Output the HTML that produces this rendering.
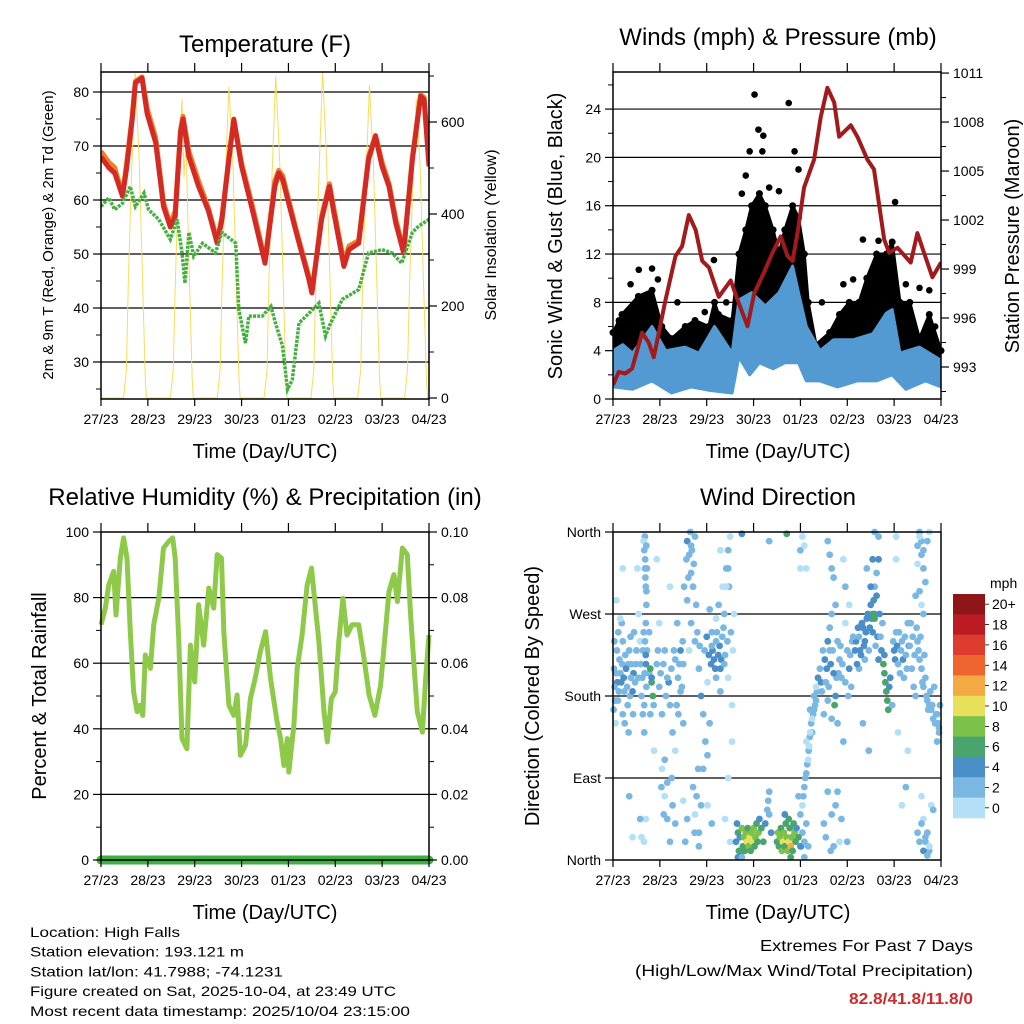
<!DOCTYPE html>
<html><head><meta charset="utf-8"><style>
html,body{margin:0;padding:0;background:#fff;}
svg{display:block;font-family:"Liberation Sans",sans-serif;}
</style></head><body>
<svg id="chart" width="1024" height="1024" viewBox="0 0 1024 1024" xmlns="http://www.w3.org/2000/svg"></svg>
<script>
// ---------- DATA ----------
const dayLabels=["27/23","28/23","29/23","30/23","01/23","02/23","03/23","04/23"];
const tempHours=[0,4,7,11,13,16,17.6,21,23.6,28,32,35.5,38,40.7,42,45,50,55,59.5,62,65.5,68,72,77.5,84,89,91,93,99.6,106.5,108,113,117,119,124.4,127,132,137,140.6,144,147.5,151,155,159.5,163.7,165.5,168];
const tempRed=[68,66,65,60.7,65.6,74.9,81.7,82.6,76,70.6,58.8,55,57,72.4,75,68,62.5,58,52,56.4,67.5,74.9,66.2,58.2,48.3,62.5,65,63.8,54.5,45.3,42.8,56.4,62.5,58.2,47.7,50.8,52,67.5,71.8,66.2,62.5,55.7,50.2,67.5,79.2,78.6,66.2];
const tempOrange=[69,67,66,61,66.5,75.5,82,82.8,77,71.5,59.5,55.5,58,73,75.5,69,63.5,58.5,52.5,57,68,75,66.8,59,48.8,63.5,65.5,64.5,55,45.8,43,57,63,59,48.5,51.5,52.5,68,72,67,63,56.5,50.5,68,79.5,79,67];
const dewHours=[0,4,7,11,15,17.6,22,24.4,29.6,35.5,39,41.5,43,45,47.5,52,58.6,62,69,70.6,74,75.7,82.6,87,89.4,93,95.5,98,101.4,106.5,111.6,115,117,123.6,132,137,144,149,154,159.5,162.8,168];
const dewVals=[58.8,60.4,58.2,59.4,62.5,58.8,61.3,58.2,56.4,52.7,56.4,50.2,44.6,54,49.6,52,50.2,54,52,39.7,33.5,38.5,38.5,40.3,37.2,32.9,24.9,26.7,37.2,39,40.9,34.8,36.7,41.6,43.4,50.2,50.8,50.2,48.3,54,55.2,56.4];
const solarHours=[0,11.5,13,14,15.5,17.5,19.5,21,22.7,23.3,35.5,37,38,39.5,41.5,42.5,43.5,45,46.7,47.3,59.5,61,62,63.5,65.5,67.5,69,70.7,71.3,83.5,85,86,87.5,89.5,91.5,93,94.7,95.3,107.5,109,110,111.5,113.5,115.5,117,118.7,119.3,131.5,133,134,135.5,137.5,139.5,141,142.7,143.3,155.5,157,158,159.5,161.5,163.5,165,166.7,167.3,168];
const solarVals=[0,0,60,250,470,706,520,300,40,0,0,60,240,450,650,480,560,300,40,0,0,60,240,460,676,520,290,40,0,0,60,250,470,700,520,300,40,0,0,60,250,470,710,520,300,40,0,0,60,250,460,680,510,290,40,0,0,60,240,440,650,500,280,40,0,0];
const presHours=[0,2.9,6.3,9.8,14.9,18.3,20.9,26.9,32,35.4,38.8,42.3,45.7,49.1,54.2,60.3,63.8,68.9,72.3,77.4,81.7,85.9,89.4,92,94.5,97.9,103,106.4,109.8,113.3,115.8,121.8,125.2,130.3,133.7,138.9,141.4,145.7,152.5,155.9,159.3,163.6,168];
const presVals=[991.9,992.7,992.6,992.9,995.1,994.5,993.6,997.1,999.8,1000.4,1002.3,1001.4,999.5,999.1,997.3,998.3,997.1,995.5,997.5,998.8,1000,1001,999.8,999.5,1001.2,1004,1005.7,1008.3,1010.1,1009.2,1007.1,1007.8,1007.1,1005.7,1005.1,1000.8,1000,1000.3,999.4,1001.2,1000,998.5,999.4];
const gustHours=[0,4.6,13,20,25,30,37,42,49,52,54,61,64.5,68,71,75,78,82,85,88,92,95,98,100,104,111,116,121,126,130,135,140,143,147,152,157,162,168];
const gustHi=[5.5,7,8.5,9,6,5,6,6.5,6,8,7,6.5,12,14,16,17,16,14,12,14,16,15,12,8,4.5,5.5,7,8,8,10,12,12,13,8,8,5,7,4];
const gustLoHours=[0,30,61,64,70,80,90,98,100,104,168];
const gustLo=[2.5,2.5,2.5,6,7,7,8,6,3,2,2];
const gustPeakHours=[72.5,74.5,76.5,80,85,90,93,95,51.7,13.2,20,23,128,144.5,136,157,162,33,47,107,118,123,68,70,66,77,3,9,58,101,150,165];
const gustPeakVals=[25.2,22.3,20.5,17.5,17.2,24.5,20.5,19,11.5,10.7,10.8,9.9,13.2,16.3,13.1,9.2,9,8,7.2,8,9.5,9.9,18.5,20.5,17,21.8,6.5,9.5,8,6,9.5,6];
const windHiHours=[0,5,10,20,27,37,44,52,61,64.5,71,78,85,92,95,99,106,113,123,133,140,143,147,157,168];
const windHi=[4,4.5,3.8,6,4,4.3,3.8,6,3.8,8.2,8.8,7.7,8.8,11,8.8,6,4,4.9,4.9,5.4,7.1,7.4,3.8,4.3,3.2];
const windLoHours=[0,10,20,30,40,50,61,64.5,70,75,82,88,95,99,106,115,125,135,143,150,160,168];
const windLo=[1,0.8,1.5,0.5,1,0.7,0.5,3.5,2,3,2.5,3,3,1.5,1.5,1,1.5,1.5,2,0.8,1.5,1];
const rhHours=[0,2.2,4,6.5,7.7,9.9,11.6,13.3,15,16.7,18.5,20,21.4,22.7,25.3,27,29.6,32,34.7,36.7,38,39.8,41.5,44,45.8,48,50,52.6,55.2,57.7,59.5,61.7,62.9,65.5,68,69.7,71.4,74,76.5,79,81.6,84.3,86.8,90.2,92,93.7,95.4,96.2,98.8,100.5,103,105.6,107.8,109,111.6,114.2,115.9,118,120,121.8,123.9,126,128.6,132,134.7,137.3,140.3,143.2,144.9,147.5,150,151.8,154.4,156.9,158.6,160.3,162,164.6,166.3,168];
const rhVals=[71.7,76.8,83.9,88,74.7,92,98.2,92,69.6,51.3,45.2,47.2,44.1,62.5,58.4,71.7,79.8,95.1,97.1,98.2,92,67.6,37,33.9,65.5,54.3,77.8,65.5,82.9,76.8,93.1,92,69.6,47.2,44.1,50.3,31.9,35,49.2,55.4,63.5,69.6,55.4,42.1,37,28.8,37,26.8,41.1,58.4,68.6,83.9,89,81.9,66.6,45.2,36,49.2,51.3,66.6,79.8,68.6,71.7,71.7,61.5,50.3,44.1,53.3,64.5,81.9,87,78.8,95.1,93.1,74.7,59.4,45.2,39,55.4,68.6];
const precipHours=[0,168];
const precipVals=[0,0];
// wind direction points: hour, degrees, speed (mph)
const dirHours=[0.8,1.7,2.5,3.3,4.2,5,5,5.8,6.7,7.5,8.3,9.2,10,10.8,11.7,1.3,3.7,8,10.3,2,5,1.7,8.3,12.5,10,13.9,14.6,13.1,13.9,
16,16.4,16.8,17.1,16.8,16.4,16.8,18.5,17.1,16,19.1,16,17.1,16.6,19.1,19.8,20.4,19.8,20.8,
22.4,23.7,25.1,26.5,27.8,29.2,30.5,31.9,26.5,27.8,29.2,30.5,25.1,31.9,23.7,29.2,22.4,27.8,21,32.6,33.3,34.6,35.3,36,
38,39,40,41,38,40,42,42,40,39,36,41,42,44,37,44,
44,45.1,46.2,47.3,48.4,46.2,49.5,50.6,51.7,52.8,53.9,55,52.8,56,50.6,52.8,48.4,55,48.4,50.6,
57,58,59,59,60,61,61,59,57,59,62,63,
63,64,64.5,65,65.5,66,66.5,67,67.5,68,68.5,69,69.5,70,70.5,71,71.5,72,72.5,73,73.5,74,74.5,75,76,77,78,79,79.5,80,80,81,64,66,63.5,
84,84.5,85,85.5,86,86.5,87,87.5,88,88.5,89,89.5,90,90.5,91,91.5,92,92.5,93,93.5,94,95,96,90,88,91,
97,98,99,100,100.5,101,102,103,104,104,99,98,100,96,97,99,96,
105,106,107,108,108.5,109,110,110,111,112,113,113.5,114,115,115,116,117,118,119,120,121,122,110,111,112,113,114,108,109,112,113,114,110,116,118,123,
124,125,126,127,128,129,130,131,132,133,134,134.5,135,136,137,130,132,136,138,128,131,133,134,
138.5,139,139.5,140,140.5,141,141.5,142,139,143,
144,145,146,147,148,149,150,151,152,153,154,155,156,157,158,159,160,161,162,163,164,165,166,167,151,148,150,146,
156,157,158,159,160,157,159,161,162,158,
156,157,158,159,160,161,162,163,164,89,66,80,98,145,145];
const dirDeg=[190,205,175,220,195,160,240,185,210,170,230,200,185,250,215,150,265,140,160,230,320,285,70,320,25,45,25,270,240,
340,320,300,280,260,240,225,205,190,170,160,140,345,310,210,195,180,200,170,
215,190,160,230,200,170,140,120,70,45,20,60,100,220,260,300,330,85,120,170,200,230,190,150,
350,335,315,300,285,260,240,355,345,230,215,80,50,30,20,15,
210,180,160,130,115,100,150,235,220,240,225,210,200,245,250,265,195,185,60,40,
270,300,320,340,355,170,130,90,215,200,270,20,
20,30,10,25,5,35,15,25,10,30,20,35,15,25,10,30,20,35,15,25,40,20,30,45,35,20,40,55,65,50,75,30,3,3,40,
20,30,15,25,35,10,20,30,15,40,25,10,20,35,15,25,10,40,30,20,35,25,15,45,50,3,
60,80,95,110,125,140,155,165,175,190,40,20,15,340,355,320,320,
200,210,185,160,220,195,175,240,230,155,205,170,180,150,240,220,200,130,260,230,210,190,350,335,320,310,280,40,25,50,15,60,75,20,330,245,
230,215,245,225,255,240,265,230,280,250,270,235,290,220,245,320,300,330,260,150,120,270,265,
215,205,195,185,175,165,190,200,225,170,
230,250,215,205,240,200,225,260,235,210,190,180,240,220,210,190,200,175,170,165,155,150,160,145,120,60,80,140,
345,355,335,320,305,295,270,350,360,280,
30,20,40,10,25,5,15,60,55,358,358,350,345,355,330];
const dirSpeed=[2,3,2,3,4,2,3,3,4,2,3,3,4,2,3,1,1,2,3,2,1,1,2,1,1,2,1,1,1,
3,3,2,3,2,3,4,3,2,2,3,2,2,3,6,6,6,4,3,
2,3,2,3,2,3,2,1,1,2,2,3,1,2,1,1,1,2,1,3,2,4,3,2,
4,3,3,2,2,3,2,3,3,1,3,2,1,2,3,2,
3,4,3,2,3,2,3,3,4,3,4,4,3,3,2,1,1,2,1,2,
2,1,2,3,1,1,1,1,3,1,1,1,
4,6,6,4,6,8,6,8,6,8,10,6,8,10,6,8,10,8,6,8,6,6,8,4,6,6,4,2,2,3,2,4,4,2,4,
6,8,6,8,6,8,10,8,6,6,8,8,10,6,12,8,6,6,8,6,4,6,4,6,4,6,
1,2,2,1,1,1,1,2,2,1,2,3,2,2,1,1,1,
4,3,3,2,4,3,2,4,3,2,4,6,4,2,3,3,2,2,1,3,4,2,3,3,2,2,3,3,2,3,3,2,3,1,1,2,
4,4,3,4,4,4,4,3,4,4,4,3,4,4,3,2,4,4,3,2,2,6,6,
6,6,6,6,6,6,4,4,4,3,
4,2,3,2,3,2,3,2,3,3,2,2,3,2,3,2,3,3,2,3,2,3,2,3,1,1,2,1,
2,1,3,2,2,2,3,2,1,1,
2,2,3,4,2,2,1,1,2,6,4,2,1,1,1];
const dirHoursExtra=[0.5,1,2.2,3,3.8,4.7,5.5,6.3,7.2,7.8,8.7,9.5,10.5,11.3,12,13,0.7,2.7,4.5,9,0.3,6,
14.2,15,15.3,15.7,14.6,15.3,16.2,16.9,17.4,16.5,17.1,18.5,16.3,17.4,15.7,15.9,16.8,
23,24.4,25.8,27.1,28.5,29.9,31.2,34,34.6,35.7,32.9,33.5,26.5,24.8,26,30.1,31.9,
36.4,37.6,38.6,39.6,40.4,41.4,42.6,43.2,44.4,43.6,42.8,45.1,41.8,38,36,
46.9,48,49.1,50.2,51,52.4,53.2,54.6,55.4,56.6,57.4,58.6,49.5,54.1,56.2,58,59.4,60.4,61.4,60,57.4,55,
97.5,98.5,99.5,100.2,100.8,101.5,102.5,103.5,104.5,101,102,103,99,97,96.5,98,95,96,
106.5,107.5,109.5,110.5,111.5,112.5,114.5,115.5,116.5,117.5,119,120.5,121.5,122.5,111,112,119,121,120,117,115,111.5,
124.5,125.5,126.5,127.5,128.5,129.5,130.5,131.5,132.5,133.5,135.5,136.5,137.5,129,126,134,135,133,136,134,
143.5,144.5,145.5,146.5,147.5,148.5,149.5,150.5,151.5,152.5,153.5,154.5,155.5,156.5,157.5,158.5,159.5,160.5,161.5,162.5,163.5,164.5,165.5,166.5,167.5,167,166,157,158,159,156,155,160,161,162,159,158];
const dirDegExtra=[210,175,195,185,205,215,200,225,190,215,180,215,205,195,230,200,240,250,260,245,165,150,
215,200,230,250,180,160,205,215,230,330,295,250,355,320,350,20,45,
230,205,215,180,195,210,230,215,185,240,260,160,110,80,50,90,40,
300,330,310,360,340,325,280,250,235,100,70,60,30,45,65,
230,245,225,215,230,210,250,235,220,255,225,240,275,280,300,320,300,250,230,20,45,340,
70,90,105,120,135,150,160,170,185,165,140,180,130,30,15,3,70,50,
195,230,210,190,215,230,200,205,235,215,195,180,225,240,255,270,300,280,20,45,75,10,
240,255,230,260,235,250,270,255,265,285,245,270,230,220,210,300,315,330,355,360,
240,220,235,250,230,220,245,210,235,260,245,225,255,230,245,195,225,180,165,185,170,190,160,150,170,140,130,360,350,340,325,290,20,30,10,45,70];
const dirSpeedExtra=[3,2,4,3,2,3,4,3,3,2,3,3,4,3,3,2,2,2,3,3,3,2,
3,2,3,3,2,2,3,4,3,3,3,3,2,3,1,1,1,
3,3,2,3,4,3,2,3,3,2,3,2,2,2,2,2,2,
3,3,2,3,3,3,3,2,3,2,2,2,3,2,1,
3,4,4,4,4,4,3,4,4,3,3,3,2,2,1,2,2,3,1,1,1,1,
2,2,2,2,2,2,2,2,3,3,2,3,1,2,3,2,2,2,
4,3,4,3,4,3,3,2,3,3,3,2,3,2,2,2,2,1,2,2,2,2,
4,4,4,4,4,4,4,4,5,4,4,4,4,3,3,3,2,4,3,3,
3,4,4,3,3,4,3,3,4,3,3,3,2,3,3,3,2,3,3,2,3,2,3,3,3,3,3,2,3,2,1,2,3,3,2,1,1];
const cbLabels=["20+","18","16","14","12","10","8","6","4","2","0"];
const cbColors=["#8e1518","#bb1c24","#dd3c2e","#ef6530","#f5a944","#e6e05a","#7cc24a","#4aa56c","#4a8fc7","#7ab8e3","#b3e0f7"];

// ---------- DRAWING ----------
const svg=document.getElementById('chart');
const NS="http://www.w3.org/2000/svg";
function mk(tag,attrs,parent){const e=document.createElementNS(NS,tag);for(const k in attrs)e.setAttribute(k,attrs[k]);(parent||svg).appendChild(e);return e;}
function txt(s,x,y,size,anchor,parent,extra){const t=mk('text',Object.assign({x:x,y:y,'font-size':size,'text-anchor':anchor||'middle',fill:'#000'},extra||{}),parent);t.textContent=s;return t;}

function panel(name,x0,x1,y0,y1){
  const g=mk('g',{});
  
  
  const xs=h=>x0+h/168*(x1-x0);
  return {g,xs,x0,x1,y0,y1};
}
function frame(p,name){
  const r=mk('rect',{x:p.x0,y:p.y0,width:p.x1-p.x0,height:p.y1-p.y0,fill:'none',stroke:'#000','stroke-width':1.5},p.g);
  
  
}
function xAxis(p,name){
  const g=mk('g',{},p.g);
  
  
  dayLabels.forEach((lab,i)=>{
    const x=p.xs(i*24);
    mk('line',{x1:x,x2:x,y1:p.y1,y2:p.y1+7,stroke:'#000','stroke-width':1.2},g);
    mk('line',{x1:x,x2:x,y1:p.y0,y2:p.y0-9,stroke:'#000','stroke-width':1.2},g);
    const t=txt(lab,x,p.y1+25,14,'middle',g);
    
    
  });
}
function grid(p,ys){ys.forEach(y=>mk('line',{x1:p.x0,x2:p.x1,y1:y,y2:y,stroke:'#000','stroke-width':1.2},p.g));}
function leftTicks(p,vals,labels,yf,minor,name){
  const g=mk('g',{},p.g);
  
  
  vals.forEach((v,i)=>{const y=yf(v);mk('line',{x1:p.x0-8,x2:p.x0,y1:y,y2:y,stroke:'#000','stroke-width':1.2},g);
    txt(labels[i],p.x0-12,y+5,14,'end',g);});
  minor.forEach(v=>{const y=yf(v);mk('line',{x1:p.x0-5,x2:p.x0,y1:y,y2:y,stroke:'#000','stroke-width':1},g);});
}
function rightTicks(p,vals,labels,yf,minor,name){
  const g=mk('g',{},p.g);
  
  
  vals.forEach((v,i)=>{const y=yf(v);mk('line',{x1:p.x1,x2:p.x1+8,y1:y,y2:y,stroke:'#000','stroke-width':1.2},g);
    txt(labels[i],p.x1+12,y+5,14,'start',g);});
  minor.forEach(v=>{const y=yf(v);mk('line',{x1:p.x1,x2:p.x1+5,y1:y,y2:y,stroke:'#000','stroke-width':1},g);});
}
function pathFrom(hs,vs,xs,yf){return hs.map((h,i)=>(i?'L':'M')+xs(h).toFixed(1)+','+yf(vs[i]).toFixed(1)).join(' ');}
function band(hsTop,top,hsBot,bot,xs,yf){
  let d=hsTop.map((h,i)=>(i?'L':'M')+xs(h).toFixed(1)+','+yf(top[i]).toFixed(1)).join(' ');
  for(let i=hsBot.length-1;i>=0;i--)d+=' L'+xs(hsBot[i]).toFixed(1)+','+yf(bot[i]).toFixed(1);
  return d+' Z';
}
function rotLabel(s,x,y,size,name){const t=txt(s,x,y,size,'middle',svg,{transform:'rotate(-90 '+x+' '+y+')'});}
function title(s,x,y,size,name){const t=txt(s,x,y,size,'middle');return t;}

// ===== Temperature panel =====
{
  const p=panel('temperature-panel',101,429,72,399);
  const yT=t=>92+(80-t)*5.4, yS=s=>398-s*0.46;
  const clip=mk('clipPath',{id:'c1'});mk('rect',{x:p.x0,y:p.y0,width:p.x1-p.x0,height:p.y1-p.y0},clip);
  grid(p,[80,70,60,50,40,30].map(yT));
  const s=mk('path',{d:pathFrom(solarHours,solarVals,p.xs,yS),fill:'none',stroke:'#f7dc5c','stroke-width':1,'clip-path':'url(#c1)'},p.g);
  
  const o=mk('path',{d:pathFrom(tempHours,tempOrange,p.xs,yT),fill:'none',stroke:'#f07f2a','stroke-width':5,'stroke-linejoin':'round','clip-path':'url(#c1)'},p.g);
  
  const r=mk('path',{d:pathFrom(tempHours,tempRed,p.xs,yT),fill:'none',stroke:'#d42a26','stroke-width':5,'stroke-linejoin':'round','clip-path':'url(#c1)'},p.g);
  
  const d=mk('path',{d:pathFrom(dewHours,dewVals,p.xs,yT),fill:'none',stroke:'#45b040','stroke-width':3.5,'stroke-dasharray':'3 1.2','clip-path':'url(#c1)'},p.g);
  
  frame(p,'temperature-plot-frame');xAxis(p,'temperature-x-axis');
  leftTicks(p,[30,40,50,60,70,80],["30","40","50","60","70","80"],yT,[25,35,45,55,65,75],'temperature-left-axis');
  rightTicks(p,[0,200,400,600],["0","200","400","600"],yS,[100,300,500,700],'solar-right-axis');
  title('Temperature (F)',265,52,24,'temperature-title');
  title('Time (Day/UTC)',265,458,20,'temperature-x-title');
  rotLabel('2m & 9m T (Red, Orange) & 2m Td (Green)',53,235,15,'temperature-y-title');
  rotLabel('Solar Insolation (Yellow)',496,235,16,'solar-y-title');
}
// ===== Winds panel =====
{
  const p=panel('winds-panel',613,941,72,399);
  const yW=v=>399-v*12.08, yP=m=>367-(m-993)*16.33;
  const clip=mk('clipPath',{id:'c2'});mk('rect',{x:p.x0,y:p.y0,width:p.x1-p.x0,height:p.y1-p.y0},clip);
  grid(p,[4,8,12,16,20,24].map(yW));
  const gb=mk('path',{d:band(gustHours,gustHi,gustLoHours,gustLo,p.xs,yW),fill:'#000',stroke:'#000','stroke-width':3,'stroke-linejoin':'round','clip-path':'url(#c2)'},p.g);
  
  gustHours.forEach((h,i)=>{const c=mk('circle',{cx:p.xs(h),cy:yW(gustHi[i]),r:3.5,fill:'#000'},p.g);
    });
  gustPeakHours.forEach((h,i)=>{const c=mk('circle',{cx:p.xs(h),cy:yW(gustPeakVals[i]),r:3.3,fill:'#000'},p.g);
    });
  const wb=mk('path',{d:band(windHiHours,windHi,windLoHours,windLo,p.xs,yW),fill:'#5399d2',stroke:'#5399d2','stroke-width':3,'stroke-linejoin':'round','clip-path':'url(#c2)'},p.g);
  
  const pr=mk('path',{d:pathFrom(presHours,presVals,p.xs,yP),fill:'none',stroke:'#a11a1c','stroke-width':4,'stroke-linejoin':'round','clip-path':'url(#c2)'},p.g);
  
  frame(p,'winds-plot-frame');xAxis(p,'winds-x-axis');
  leftTicks(p,[0,4,8,12,16,20,24],["0","4","8","12","16","20","24"],yW,[2,6,10,14,18,22,26],'wind-left-axis');
  rightTicks(p,[993,996,999,1002,1005,1008,1011],["993","996","999","1002","1005","1008","1011"],yP,[991.5,994.5,997.5,1000.5,1003.5,1006.5,1009.5],'pressure-right-axis');
  title('Winds (mph) & Pressure (mb)',778,45,24,'winds-title');
  title('Time (Day/UTC)',778,458,20,'winds-x-title');
  rotLabel('Sonic Wind & Gust (Blue, Black)',562,236,20,'wind-y-title');
  rotLabel('Station Pressure (Maroon)',1019,236,20,'pressure-y-title');
}
// ===== RH panel =====
{
  const p=panel('humidity-panel',101,429,532,860);
  const yR=v=>860-v*3.28, yPr=v=>860-v*3280;
  grid(p,[20,40,60,80].map(yR));
  const pl=mk('path',{d:pathFrom(precipHours,precipVals,p.xs,yPr),fill:'none',stroke:'#3cb043','stroke-width':9,'stroke-linecap':'round'},p.g);
  
  const rl=mk('path',{d:pathFrom(rhHours,rhVals,p.xs,yR),fill:'none',stroke:'#8fc94a','stroke-width':5,'stroke-linejoin':'round'},p.g);
  
  frame(p,'humidity-plot-frame');xAxis(p,'humidity-x-axis');
  leftTicks(p,[0,20,40,60,80,100],["0","20","40","60","80","100"],yR,[10,30,50,70,90],'humidity-left-axis');
  rightTicks(p,[0,0.02,0.04,0.06,0.08,0.1],["0.00","0.02","0.04","0.06","0.08","0.10"],yPr,[0.01,0.03,0.05,0.07,0.09],'precip-right-axis');
  title('Relative Humidity (%) & Precipitation (in)',265,505,24,'humidity-title');
  title('Time (Day/UTC)',265,919,20,'humidity-x-title');
  rotLabel('Percent & Total Rainfall',46,696,20,'humidity-y-title');
}
// ===== Wind direction panel =====
{
  const p=panel('wind-direction-panel',613,941,532,860);
  const yD=d=>860-d/360*328;
  const clip=mk('clipPath',{id:'c4'});mk('rect',{x:p.x0-4,y:p.y0-4,width:p.x1-p.x0+8,height:p.y1-p.y0+8},clip);
  grid(p,[90,180,270].map(yD));
  const col=s=>{let i=Math.min(10,Math.floor(s/2));return cbColors[10-i];};
  const drawDir=(hs,ds,ss)=>hs.forEach((h,i)=>{const c=mk('circle',{cx:p.xs(h),cy:yD(ds[i]),r:3.4,fill:col(ss[i]),'clip-path':'url(#c4)'},p.g);
    });
  drawDir(dirHoursExtra,dirDegExtra,dirSpeedExtra);
  drawDir(dirHours,dirDeg,dirSpeed);
  frame(p,'direction-plot-frame');xAxis(p,'direction-x-axis');
  leftTicks(p,[0,90,180,270,360],["North","East","South","West","North"],yD,[],'direction-left-axis');
  title('Wind Direction',778,505,24,'direction-title');
  title('Time (Day/UTC)',778,919,20,'direction-x-title');
  rotLabel('Direction (Colored By Speed)',539,696,20,'direction-y-title');
  const cb=mk('g',{});
  
  const bh=224/11;
  cbColors.forEach((c,i)=>{mk('rect',{x:953,y:594+i*bh,width:32,height:bh+0.3,fill:c},cb);
    mk('line',{x1:985,x2:989,y1:594+(i+0.5)*bh,y2:594+(i+0.5)*bh,stroke:'#000','stroke-width':0.8},cb);
    txt(cbLabels[i],992,594+(i+0.5)*bh+5,14,'start',cb);});
  txt('mph',990,588,14,'start',cb);
}
// ===== Footer =====
const info=["Location: High Falls","Station elevation: 193.121 m","Station lat/lon: 41.7988; -74.1231","Figure created on Sat, 2025-10-04, at 23:49 UTC","Most recent data timestamp: 2025/10/04 23:15:00"];
const infoW=[150,214,253,366,380];
info.forEach((s,i)=>{const t=txt(s,30,937+i*19.7,14,'start',svg,{textLength:infoW[i],lengthAdjust:'spacingAndGlyphs'});
  });
{const t=txt('Extremes For Past 7 Days',973,951,16,'end',svg,{textLength:213,lengthAdjust:'spacingAndGlyphs'});}
{const t=txt('(High/Low/Max Wind/Total Precipitation)',973,976,16,'end',svg,{textLength:338,lengthAdjust:'spacingAndGlyphs'});}
{const t=txt('82.8/41.8/11.8/0',973,1004,16,'end',svg,{textLength:124,lengthAdjust:'spacingAndGlyphs',fill:'#d02a2a','font-weight':'bold'});}
</script>
</body></html>
